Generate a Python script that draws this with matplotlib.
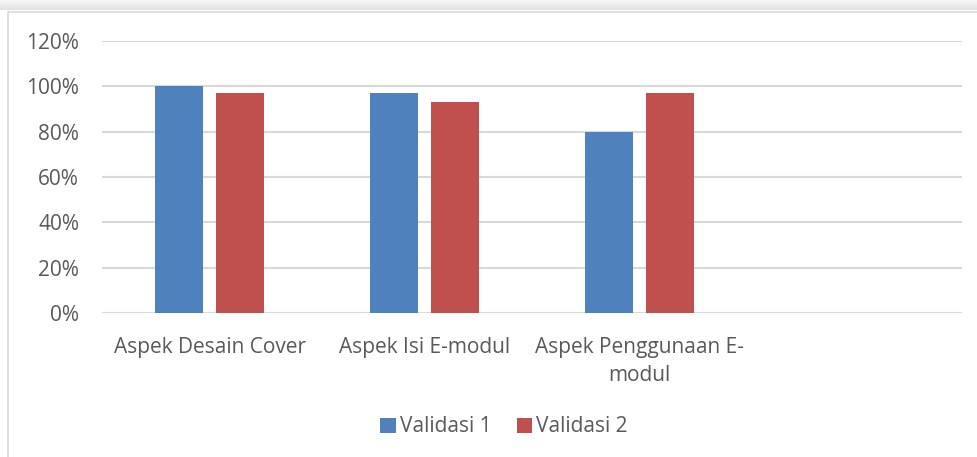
import matplotlib
matplotlib.use("Agg")
import matplotlib.pyplot as plt
import numpy as np
from matplotlib.patches import Rectangle

categories = ["Aspek Desain Cover", "Aspek Isi E-modul", "Aspek Penggunaan E-\nmodul", ""]
validasi1 = [1.00, 0.97, 0.80, np.nan]
validasi2 = [0.97, 0.93, 0.97, np.nan]
yticks = [0, 0.2, 0.4, 0.6, 0.8, 1.0, 1.2]
ytick_labels = ["0%", "20%", "40%", "60%", "80%", "100%", "120%"]

plt.rcParams['font.family'] = ['Open Sans', 'DejaVu Sans']
W, H = 977, 457
fig = plt.figure(figsize=(W/100, H/100), dpi=100)
fig.patch.set_facecolor('white')

# top grey strip
grad = np.linspace(0.97, 0.88, 20).reshape(-1, 1)
axs = fig.add_axes([0, 1-10/H, 1, 10/H])
axs.imshow(np.repeat(grad, 2, axis=1), cmap='gray', vmin=0, vmax=1, aspect='auto')
axs.axis('off')

# frame
fig.patches.append(Rectangle((8/W, -0.01), 1.2, 1-12/H+0.01, transform=fig.transFigure,
                             facecolor='none', edgecolor='#d9d9d9', lw=1.2))

ax = fig.add_axes([102/W, 1-313/H, 860/W, (313-41)/H])
x = np.arange(len(categories))
bw = 0.223
off = 0.142
ax.bar(x - off, validasi1, bw, color='#4F81BD', label='Validasi 1', zorder=3)
ax.bar(x + off, validasi2, bw, color='#C0504D', label='Validasi 2', zorder=3)
ax.set_xlim(-0.5, len(categories)-0.5)
ax.set_ylim(0, 1.2)
ax.set_yticks(yticks)
ax.set_yticklabels(ytick_labels)
ax.set_xticks(x)
ax.set_xticklabels(categories, linespacing=1.45)
ax.grid(axis='y', color='#d9d9d9', lw=1.5, zorder=0)
for s in ax.spines.values():
    s.set_visible(False)
ax.tick_params(length=0, colors='#595959', labelsize=15)
ax.tick_params(axis='y', pad=16.5)
ax.tick_params(axis='x', pad=17)

leg = fig.legend(loc='center', bbox_to_anchor=(504/W, 1-427/H), ncol=2, frameon=False,
                 fontsize=15, handlelength=0.75, handleheight=0.75, handletextpad=0.2,
                 columnspacing=1.2)
for t in leg.get_texts():
    t.set_color('#595959')

fig.savefig('out.png', dpi=100)
